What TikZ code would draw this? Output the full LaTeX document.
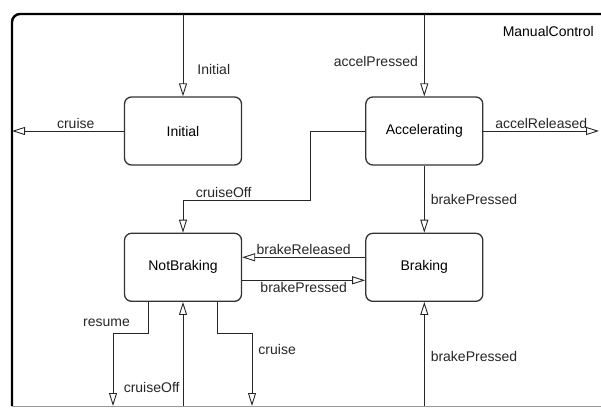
\documentclass[tikz,border=0pt]{standalone}
\usepackage{fontspec}
\setmainfont{Liberation Sans}
\usetikzlibrary{arrows.meta, positioning}
\tikzset{state/.style={rectangle,draw=black!80,line width=1.3pt,rounded corners=7pt,align=center,minimum width=117pt,minimum height=68pt,font=\fontsize{14}{16}\selectfont},
lbl/.style={font=\fontsize{14}{16}\selectfont,inner sep=2pt},
frame/.style={line width=2.4pt,rounded corners=8pt},
line/.style={-{Triangle[open,length=13pt,width=8pt]},line width=0.9pt,black!85}}

\begin{document}
\begin{tikzpicture}[x=1pt,y=1pt,node distance=67pt and 123pt]
\useasboundingbox (0,0) rectangle (601,-409);
\clip (0,0) rectangle (601,-409);
\coordinate (ftl) at (12,-14);
\coordinate (fbr) at (599,-406);
\draw[frame] (640,-14) -- (ftl) -- (12,-406);
\draw[black!40,line width=0.8pt] (12,-406) -- (601,-406);
\node[lbl,anchor=east] (title) at (596,-31) {ManualControl};
% states
\node[state] (init) at (183,-131) {Initial};
\node[state, right=of init] (accel) {Accelerating};
\node[state, below=of init] (nb) {NotBraking};
\node[state, below=of accel] (brk) {Braking};
\coordinate (cofk) at (310,-200);
\coordinate (rsk) at (113,-333);
\coordinate (crk) at (252,-333);
% transitions
\draw[line] (init.north |- ftl) -- node[lbl,right=12pt,pos=0.67]{Initial} (init);
\draw[line] (init.west) -- node[lbl,above,pos=0.43]{cruise} (init.west -| ftl);
\draw[line] (accel.north |- ftl) -- node[lbl,left=4pt,pos=0.58]{accelPressed} (accel);
\draw[line] (accel.east) -- node[lbl,above]{accelReleased} (accel.east -| fbr);
\draw[line] (accel.west) -| (cofk) -| node[lbl,above,pos=0.34]{cruiseOff} (nb.north);
\draw[line] (accel) -- node[lbl,right=4pt]{brakePressed} (brk);
\draw[line] ([yshift=10pt]brk.west) -- node[lbl,above]{brakeReleased} ([yshift=10pt]nb.east);
\draw[line] ([yshift=-13pt]nb.east) -- node[lbl,below]{brakePressed} ([yshift=-13pt]brk.west);
\draw[line] (brk |- fbr) -- node[lbl,right=4pt,pos=0.48]{brakePressed} (brk);
\draw[line] ([xshift=-35pt]nb.south) |- node[lbl,above=4pt,xshift=-24pt,pos=0.75]{resume} (rsk) -- (rsk |- fbr);
\draw[line] (nb |- fbr) -- node[lbl,left=1pt,pos=0.18]{cruiseOff} (nb);
\draw[line] ([xshift=34pt]nb.south) |- (crk) -- node[lbl,right=4pt,pos=0.23]{cruise} (crk |- fbr);
\end{tikzpicture}
\end{document}
